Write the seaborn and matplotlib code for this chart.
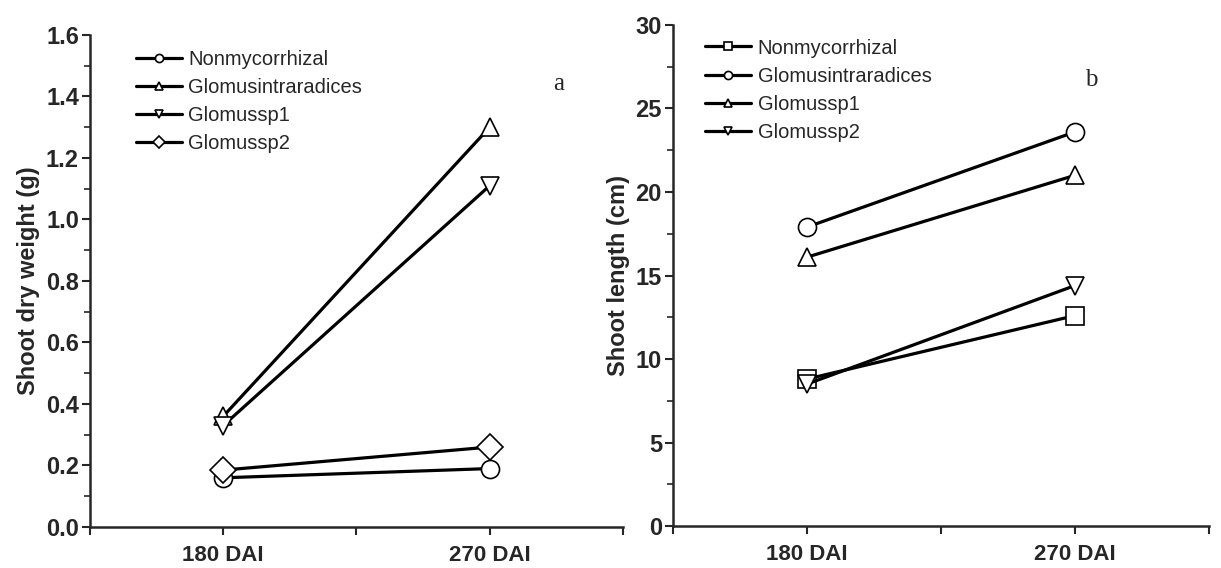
import matplotlib
matplotlib.use("Agg")
import matplotlib.pyplot as plt
from matplotlib.ticker import MultipleLocator, FormatStrFormatter
import seaborn as sns
import pandas as pd

# sampling times
days = ['180 DAI', '270 DAI']
day_pos = [1, 3]

# panel a: shoot dry weight (g)
dw_names = ['Nonmycorrhizal', 'Glomusintraradices', 'Glomussp1', 'Glomussp2']
dw_nonmyc = [0.16, 0.19]
dw_gint = [0.36, 1.30]
dw_gsp1 = [0.33, 1.11]
dw_gsp2 = [0.185, 0.26]
dw_markers = ['o', '^', 'v', 'D']

# panel b: shoot length (cm)
sl_names = ['Nonmycorrhizal', 'Glomusintraradices', 'Glomussp1', 'Glomussp2']
sl_nonmyc = [8.8, 12.6]
sl_gint = [17.9, 23.6]
sl_gsp1 = [16.1, 21.0]
sl_gsp2 = [8.5, 14.4]
sl_markers = ['s', 'o', '^', 'v']

sns.set_style("ticks")
plt.rcParams['font.family'] = ['Liberation Sans', 'DejaVu Sans']


def make_df(names, series):
    rows = []
    for name, vals in zip(names, series):
        for p, v in zip(day_pos, vals):
            rows.append({'treatment': name, 'pos': p, 'val': v})
    return pd.DataFrame(rows)


df_a = make_df(dw_names, [dw_nonmyc, dw_gint, dw_gsp1, dw_gsp2])
df_b = make_df(sl_names, [sl_nonmyc, sl_gint, sl_gsp1, sl_gsp2])

fig = plt.figure(figsize=(12.21, 5.68), dpi=100)
ax1 = fig.add_axes([0.0737, 0.0722, 0.4365, 0.8662])
ax2 = fig.add_axes([0.5512, 0.0739, 0.4390, 0.8821])


def draw(ax, df, names, markers, ylabel, ymax, ystep, yminor, fmt, letter, letter_xy, leg_anchor):
    sns.lineplot(data=df, x='pos', y='val', style='treatment', style_order=names,
                 markers=markers, dashes=False, color='black', linewidth=2.3,
                 markersize=13, markerfacecolor='white', markeredgecolor='black',
                 markeredgewidth=1.2, legend=False, ax=ax)
    ax.set_xlim(0, 4)
    ax.set_ylim(0, ymax)
    ax.set_xticks([0, 1, 2, 3, 4])
    ax.set_xticklabels(['', days[0], '', days[1], ''], fontsize=16, fontweight='bold')
    ax.yaxis.set_major_locator(MultipleLocator(ystep))
    ax.yaxis.set_minor_locator(MultipleLocator(yminor))
    ax.yaxis.set_major_formatter(FormatStrFormatter(fmt))
    for lab in ax.get_yticklabels():
        lab.set_fontsize(17)
        lab.set_fontweight('bold')
    ax.tick_params(axis='both', which='major', length=6, width=1.5, direction='out')
    ax.tick_params(axis='y', which='major', pad=2)
    ax.tick_params(axis='y', which='minor', length=4, width=1.2, direction='out')
    ax.tick_params(axis='x', which='major', pad=7)
    ax.set_xlabel('')
    ax.set_ylabel(ylabel, fontsize=17, fontweight='bold', labelpad=4)
    sns.despine(ax=ax)
    for sp in ['left', 'bottom']:
        ax.spines[sp].set_linewidth(1.8)
    ax.text(letter_xy[0], letter_xy[1], letter, transform=ax.transAxes, fontsize=18,
            family='Liberation Serif', ha='center', va='center')
    handles = ax.get_lines()[:len(names)]
    ax.legend(handles, names, loc='upper left', bbox_to_anchor=leg_anchor,
              frameon=False, markerscale=0.45, fontsize=14.5, handlelength=2.3,
              handletextpad=0.3, labelspacing=0.45, borderaxespad=0, borderpad=0)


draw(ax1, df_a, dw_names, dw_markers, 'Shoot dry weight (g)', 1.6, 0.2, 0.1, '%.1f', 'a',
     (0.88, 0.90), (0.086, 0.969))
draw(ax2, df_b, sl_names, sl_markers, 'Shoot length (cm)', 30, 5, 2.5, '%d', 'b',
     (0.78, 0.89), (0.06, 0.973))

fig.savefig('out.png', dpi=100)
